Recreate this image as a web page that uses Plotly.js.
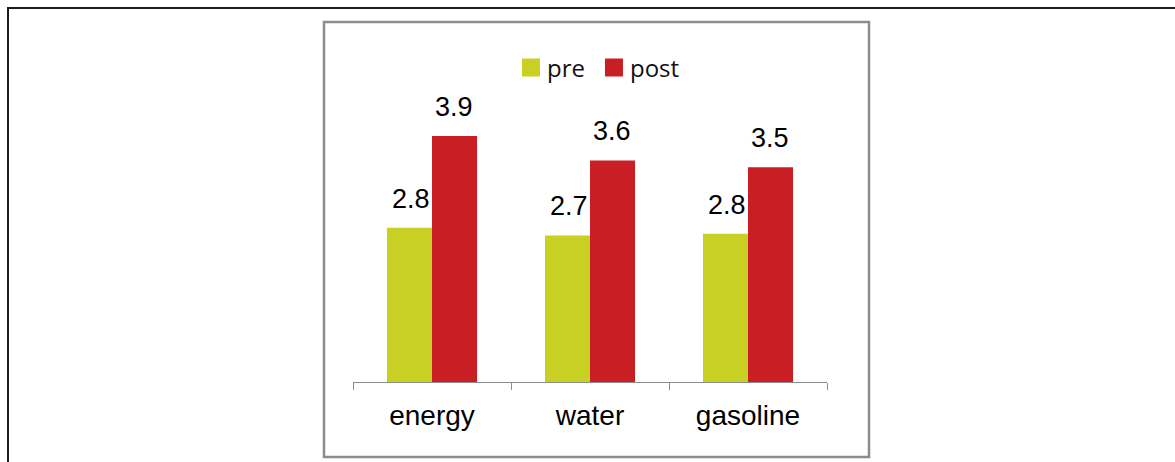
<!DOCTYPE html>
<html>
<head>
<meta charset="utf-8">
<script src="https://cdn.plot.ly/plotly-3.0.1.min.js"></script>
<style>
html,body{margin:0;padding:0;background:#fff;}
#chart{width:1175px;height:462px;}
</style>
</head>
<body>
<div id="chart"></div>
<script>
// ---- data ----
const categories = ["energy", "water", "gasoline"];
const seriesNames = ["pre", "post"];
const preValues = [2.83, 2.74, 2.76];
const postValues = [3.92, 3.63, 3.55];
const preLabels = ["2.8", "2.7", "2.8"];
const postLabels = ["3.9", "3.6", "3.5"];

// ---- geometry helpers (pixel -> paper) ----
const L = 353, R = 827, B = 382, T = 45;
const W = R - L, H = B - T;
const px = x => (x - L) / W;
const py = y => (B - y) / H;

const colors = {pre: "#c9d024", post: "#c81e24"};
const labelFont = {family: "Liberation Sans, Arial, sans-serif", size: 27, color: "#000"};

const traces = [
  {type: "bar", name: seriesNames[0], x: categories, y: preValues,
   marker: {color: colors.pre}, hoverinfo: "none"},
  {type: "bar", name: seriesNames[1], x: categories, y: postValues,
   marker: {color: colors.post}, hoverinfo: "none"}
];

const annotations = [];
categories.forEach((c, i) => {
  annotations.push({x: c, y: preValues[i], text: preLabels[i], showarrow: false,
    xref: "x", yref: "y", xshift: -21, yshift: 12, yanchor: "bottom", font: labelFont});
  annotations.push({x: c, y: postValues[i], text: postLabels[i], showarrow: false,
    xref: "x", yref: "y", xshift: 22, yshift: 12, yanchor: "bottom", font: labelFont});
});

const shapes = [
  {type: "rect", xref: "paper", yref: "paper", x0: px(8), x1: px(1190), y0: py(8), y1: py(480),
   line: {color: "#1a1a1a", width: 2}, layer: "below"},
  {type: "rect", xref: "paper", yref: "paper", x0: px(324), x1: px(869), y0: py(22), y1: py(457),
   line: {color: "#8c8c8c", width: 2.5}, layer: "below"}
];

const layout = {
  width: 1175, height: 462,
  margin: {l: L, r: 1175 - R, t: T, b: 462 - B, pad: 0},
  paper_bgcolor: "#fff", plot_bgcolor: "rgba(0,0,0,0)",
  barmode: "group", bargap: 0.43, bargroupgap: 0,
  showlegend: true,
  legend: {orientation: "h", x: px(596), xanchor: "center", y: py(68), yanchor: "middle",
    font: {family: "Open Sans, sans-serif", size: 24, color: "#111"},
    bgcolor: "rgba(0,0,0,0)", itemclick: false, itemdoubleclick: false, traceorder: "normal"},
  xaxis: {type: "category", showline: true, linecolor: "#8c8c8c", linewidth: 1,
    ticks: "outside", tickson: "boundaries", ticklen: 7, tickcolor: "#8c8c8c", tickwidth: 1,
    showgrid: false, zeroline: false, fixedrange: true, ticklabelstandoff: 8,
    tickfont: {family: "Liberation Sans, Arial, sans-serif", size: 28, color: "#000"}},
  yaxis: {visible: false, range: [1, 5], fixedrange: true},
  annotations: annotations,
  shapes: shapes
};

Plotly.newPlot("chart", traces, layout, {staticPlot: true, displayModeBar: false}).then(() => {
  document.querySelectorAll(".legendpoints path").forEach(p => p.setAttribute("d", "M13,9H-5V-9H13Z"));
});
</script>
</body>
</html>
